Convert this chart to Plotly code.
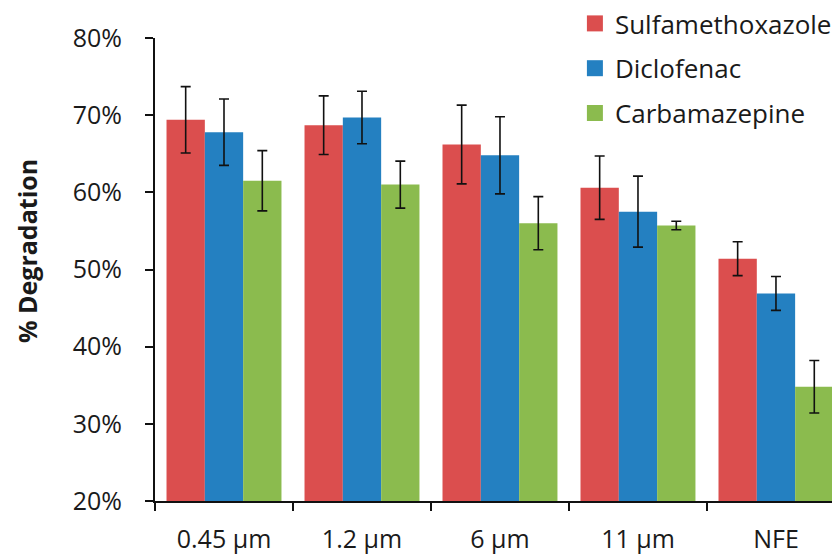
import plotly.graph_objects as go

categories = ["0.45 µm", "1.2 µm", "6 µm", "11 µm", "NFE"]
series_names = ["Sulfamethoxazole", "Diclofenac", "Carbamazepine"]
sulfa = [69.4, 68.7, 66.2, 60.6, 51.4]
sulfa_err = [4.3, 3.8, 5.1, 4.1, 2.2]
diclo = [67.8, 69.7, 64.8, 57.5, 46.9]
diclo_err = [4.3, 3.4, 5.0, 4.6, 2.2]
carba = [61.5, 61.0, 56.0, 55.7, 34.8]
carba_err = [3.9, 3.05, 3.45, 0.55, 3.4]
y_ticks = [20, 30, 40, 50, 60, 70, 80]
y_tick_labels = [f"{v}%" for v in y_ticks]

colors = ["#DB4E4E", "#2480C1", "#8BBB4E"]
values = [sulfa, diclo, carba]
errors = [sulfa_err, diclo_err, carba_err]

fig = go.Figure()
for i, name in enumerate(series_names):
    fig.add_trace(go.Bar(
        x=categories, y=values[i], name=name, legendgroup=name,
        showlegend=False,
        marker=dict(color=colors[i], line=dict(width=0)),
        error_y=dict(type="data", array=errors[i], visible=True,
                     color="#111111", thickness=1.6, width=5),
    ))
# legend entries with larger square swatches
for i, name in enumerate(series_names):
    fig.add_trace(go.Scatter(
        x=[None], y=[None], mode="markers", name=name, legendgroup=name,
        marker=dict(symbol="square", size=16, color=colors[i]),
        showlegend=True,
    ))

# the page body adds an 8px offset; size the figure to fit the window
W, H = 832, 546
L, T, B = 147, 30, 53
plot_h = H - T - B

font_family = "Open Sans, Noto Sans, sans-serif"
fig.update_layout(
    width=W, height=H,
    margin=dict(l=L, r=0, t=T, b=B, autoexpand=False),
    paper_bgcolor="white", plot_bgcolor="white",
    barmode="group", bargap=0.167, bargroupgap=0,
    font=dict(family=font_family, color="#1a1a1a", size=25),
    showlegend=True,
    legend=dict(x=0.613, y=(H - B + 8) / plot_h, xanchor="left", yanchor="top",
                yref="paper",
                font=dict(size=26, family=font_family, color="#1a1a1a"),
                tracegroupgap=8, bgcolor="rgba(0,0,0,0)", itemsizing="trace"),
    xaxis=dict(type="category", range=[-0.5, 4.464], showline=True,
               linecolor="#111111", linewidth=2, ticks="outside",
               tickson="boundaries", ticklen=8, tickwidth=2, tickcolor="#111111",
               tickfont=dict(size=25), ticklabelstandoff=15,
               showgrid=False, zeroline=False),
    yaxis=dict(range=[20, 80], tickvals=y_ticks, ticktext=y_tick_labels,
               showline=True, linecolor="#111111", linewidth=2,
               ticks="outside", ticklen=8, tickwidth=2, tickcolor="#111111",
               tickfont=dict(size=25), ticklabelstandoff=18,
               showgrid=False, zeroline=False),
    annotations=[dict(text="<b>% Degradation</b>", x=(19 - L) / (W - L), xref="paper",
                      y=(H - B - 243) / plot_h, yref="paper", showarrow=False,
                      textangle=-90, xanchor="center", yanchor="middle",
                      font=dict(size=25, family=font_family, color="#1a1a1a"))],
)

fig.write_html("out.html")
